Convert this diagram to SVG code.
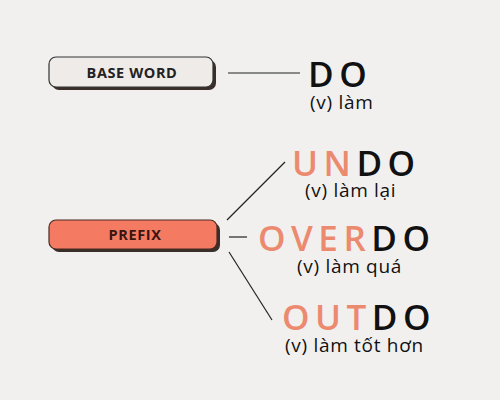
<svg xmlns="http://www.w3.org/2000/svg" width="500" height="400" viewBox="0 0 500 400">
<style>
.bg{fill:#f1f0ef}
.shadow{fill:#3a2e2a}
.label{font-family:"Open Sans","Liberation Sans",sans-serif;font-weight:700;font-size:14.5px;letter-spacing:0.6px;text-anchor:middle}
.word{font-family:"Open Sans","Liberation Sans",sans-serif;font-weight:600;font-size:35px;letter-spacing:5.5px}
.pre{fill:#ec8a70}
.base{fill:#111}
.mean{font-family:"Open Sans","Liberation Sans",sans-serif;font-size:19px;letter-spacing:0.7px;fill:#111}
.conn line{stroke:#222;stroke-width:1.2}
</style>
<rect class="bg" x="0" y="0" width="500" height="400"/>
<g class="conn" id="connectors">
<line x1="228" y1="73" x2="300" y2="73"/>
<line x1="227" y1="220" x2="285" y2="162"/>
<line x1="229" y1="237" x2="247" y2="237"/>
<line x1="229" y1="252" x2="272" y2="320"/>
</g>
<g id="base-word">
<rect class="shadow" x="52" y="60" width="164" height="30" rx="7"/>
<rect x="49" y="57" width="164" height="30" rx="7" fill="#efebe8" stroke="#333" stroke-width="1.2"/>
<text class="label" x="132" y="78" fill="#222">BASE WORD</text>
</g>
<g id="prefix">
<rect class="shadow" x="52" y="223" width="168" height="29" rx="7"/>
<rect x="49" y="220" width="168" height="29" rx="7" fill="#f47b62" stroke="#4a2a22" stroke-width="1.2"/>
<text class="label" x="135" y="240" fill="#3a1510">PREFIX</text>
</g>
<g id="do">
<text class="word base" x="308" y="87">DO</text>
<text class="mean" x="310" y="109">(v) làm</text>
</g>
<g id="undo">
<text class="word" x="292" y="176"><tspan class="pre">UN</tspan><tspan class="base">DO</tspan></text>
<text class="mean" x="305" y="197">(v) làm lại</text>
</g>
<g id="overdo">
<text class="word" x="258" y="251"><tspan class="pre">OVER</tspan><tspan class="base">DO</tspan></text>
<text class="mean" x="297" y="273">(v) làm quá</text>
</g>
<g id="outdo">
<text class="word" x="282" y="330"><tspan class="pre">OUT</tspan><tspan class="base">DO</tspan></text>
<text class="mean" x="285" y="352">(v) làm tốt hơn</text>
</g>
</svg>
